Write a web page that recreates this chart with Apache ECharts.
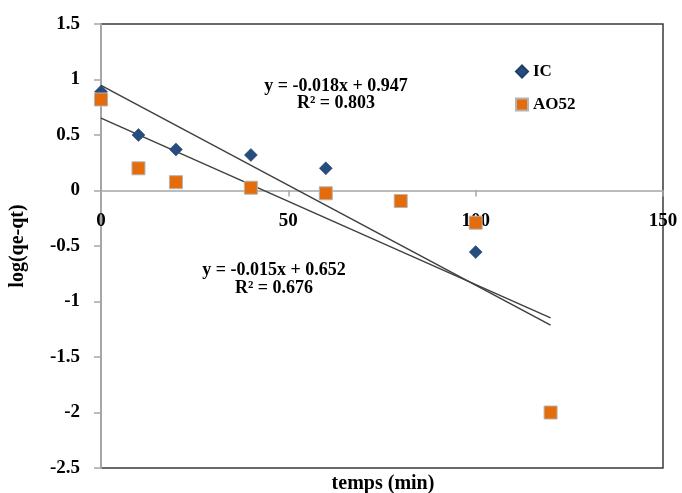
<!DOCTYPE html>
<html>
<head>
<meta charset="utf-8">
<script src="https://cdn.jsdelivr.net/npm/echarts@6/dist/echarts.min.js"></script>
<style>
  html, body { margin: 0; padding: 0; background: #fff; }
  #chart { width: 682px; height: 493px; }
</style>
</head>
<body>
<div id="chart"></div>
<script>
// Kinetics: log(qe - qt) versus time, with linear fits
const icTimes = [0, 10, 20, 40, 60, 100];
const icValues = [0.89, 0.50, 0.37, 0.32, 0.20, -0.555];

const ao52Times = [0, 10, 20, 40, 60, 80, 100, 120];
const ao52Values = [0.82, 0.20, 0.075, 0.025, -0.025, -0.095, -0.29, -2.0];

// Linear fits (slope, intercept) and the x range over which they are drawn
const icFit = { slope: -0.018, intercept: 0.947, r2: '0.803' };
const ao52Fit = { slope: -0.015, intercept: 0.652, r2: '0.676' };
const fitRange = [0, 120];

const xTicks = [0, 50, 100, 150];
const yTicks = [-2.5, -2, -1.5, -1, -0.5, 0, 0.5, 1, 1.5];

const serif = '"Liberation Serif", "Times New Roman", serif';

const pairs = (xs, ys) => xs.map((x, i) => [x, ys[i]]);
const fitLine = f => fitRange.map(x => [x, f.slope * x + f.intercept]);
const eqText = f => 'y = ' + f.slope + 'x + ' + f.intercept;

// Plot box geometry
const gridTop = 24, gridBottom = 25, chartHeight = 493;
const plotHeight = chartHeight - gridTop - gridBottom;
const yMin = yTicks[0], yMax = yTicks[yTicks.length - 1];
// The time axis sits on the y = 0 line, so shift it up from the box bottom
const zeroShift = -plotHeight * (0 - yMin) / (yMax - yMin);

const chart = echarts.init(document.getElementById('chart'), null, { renderer: 'canvas' });

chart.setOption({
  animation: false,
  backgroundColor: '#ffffff',
  grid: {
    left: 101, right: 19, top: gridTop, bottom: gridBottom,
    show: true, borderColor: '#3a3a3a', borderWidth: 1.5,
    containLabel: false, outerBoundsMode: 'none'
  },
  xAxis: {
    type: 'value',
    min: xTicks[0], max: xTicks[xTicks.length - 1], interval: 50,
    offset: zeroShift,
    axisLine: { onZero: false, lineStyle: { color: '#a6a6a6', width: 1.5 } },
    axisTick: { show: true, inside: false, length: 6, lineStyle: { color: '#a6a6a6', width: 1.5 } },
    axisLabel: { margin: 21, color: '#000', fontFamily: serif, fontWeight: 'bold', fontSize: 19 },
    splitLine: { show: false }
  },
  yAxis: {
    type: 'value',
    min: yMin, max: yMax, interval: 0.5,
    name: 'log(qe-qt)', nameLocation: 'middle', nameRotate: 90, nameGap: 73,
    nameTextStyle: { color: '#000', fontFamily: serif, fontWeight: 'bold', fontSize: 20 },
    axisLine: { show: true, lineStyle: { color: '#a6a6a6', width: 2 } },
    axisTick: { show: true, inside: false, length: 7, lineStyle: { color: '#a6a6a6', width: 1.5 } },
    axisLabel: { margin: 21, color: '#000', fontFamily: serif, fontWeight: 'bold', fontSize: 19 },
    splitLine: { show: false }
  },
  legend: {
    show: true,
    orient: 'vertical',
    left: 510, top: 58,
    itemWidth: 12, itemHeight: 12, itemGap: 16, itemTextGap: 5,
    data: ['IC', 'AO52'],
    textStyle: { color: '#000', fontFamily: serif, fontWeight: 'bold', fontSize: 17, lineHeight: 17 }
  },
  series: [
    {
      name: 'IC fit', type: 'line', data: fitLine(icFit),
      symbol: 'none', silent: true, z: 1,
      lineStyle: { color: '#404040', width: 1.5 }
    },
    {
      name: 'AO52 fit', type: 'line', data: fitLine(ao52Fit),
      symbol: 'none', silent: true, z: 1,
      lineStyle: { color: '#404040', width: 1.5 }
    },
    {
      name: 'IC', type: 'scatter', data: pairs(icTimes, icValues),
      symbol: 'diamond', symbolSize: 13, z: 3,
      itemStyle: { color: '#264d7e', borderColor: '#1f3f68', borderWidth: 0.5, opacity: 1 }
    },
    {
      name: 'AO52', type: 'scatter', data: pairs(ao52Times, ao52Values),
      symbol: 'rect', symbolSize: 13, z: 4,
      itemStyle: { color: '#e46c0a', borderColor: '#b4b4b4', borderWidth: 1, opacity: 1 }
    }
  ],
  graphic: [
    {
      type: 'text',
      style: {
        x: 336, y: 78, text: eqText(icFit) + '\nR\u00B2 = ' + icFit.r2,
        align: 'center', verticalAlign: 'top', lineHeight: 17,
        fill: '#000', font: 'bold 18px ' + serif
      },
      z: 10
    },
    {
      type: 'text',
      style: {
        x: 274, y: 261, text: eqText(ao52Fit) + '\nR\u00B2 = ' + ao52Fit.r2,
        align: 'center', verticalAlign: 'top', lineHeight: 18,
        fill: '#000', font: 'bold 18px ' + serif
      },
      z: 10
    },
    {
      type: 'text',
      style: {
        x: 383, y: 484, text: 'temps (min)',
        align: 'center', verticalAlign: 'middle',
        fill: '#000', font: 'bold 20px ' + serif
      },
      z: 10
    }
  ]
});
</script>
</body>
</html>
